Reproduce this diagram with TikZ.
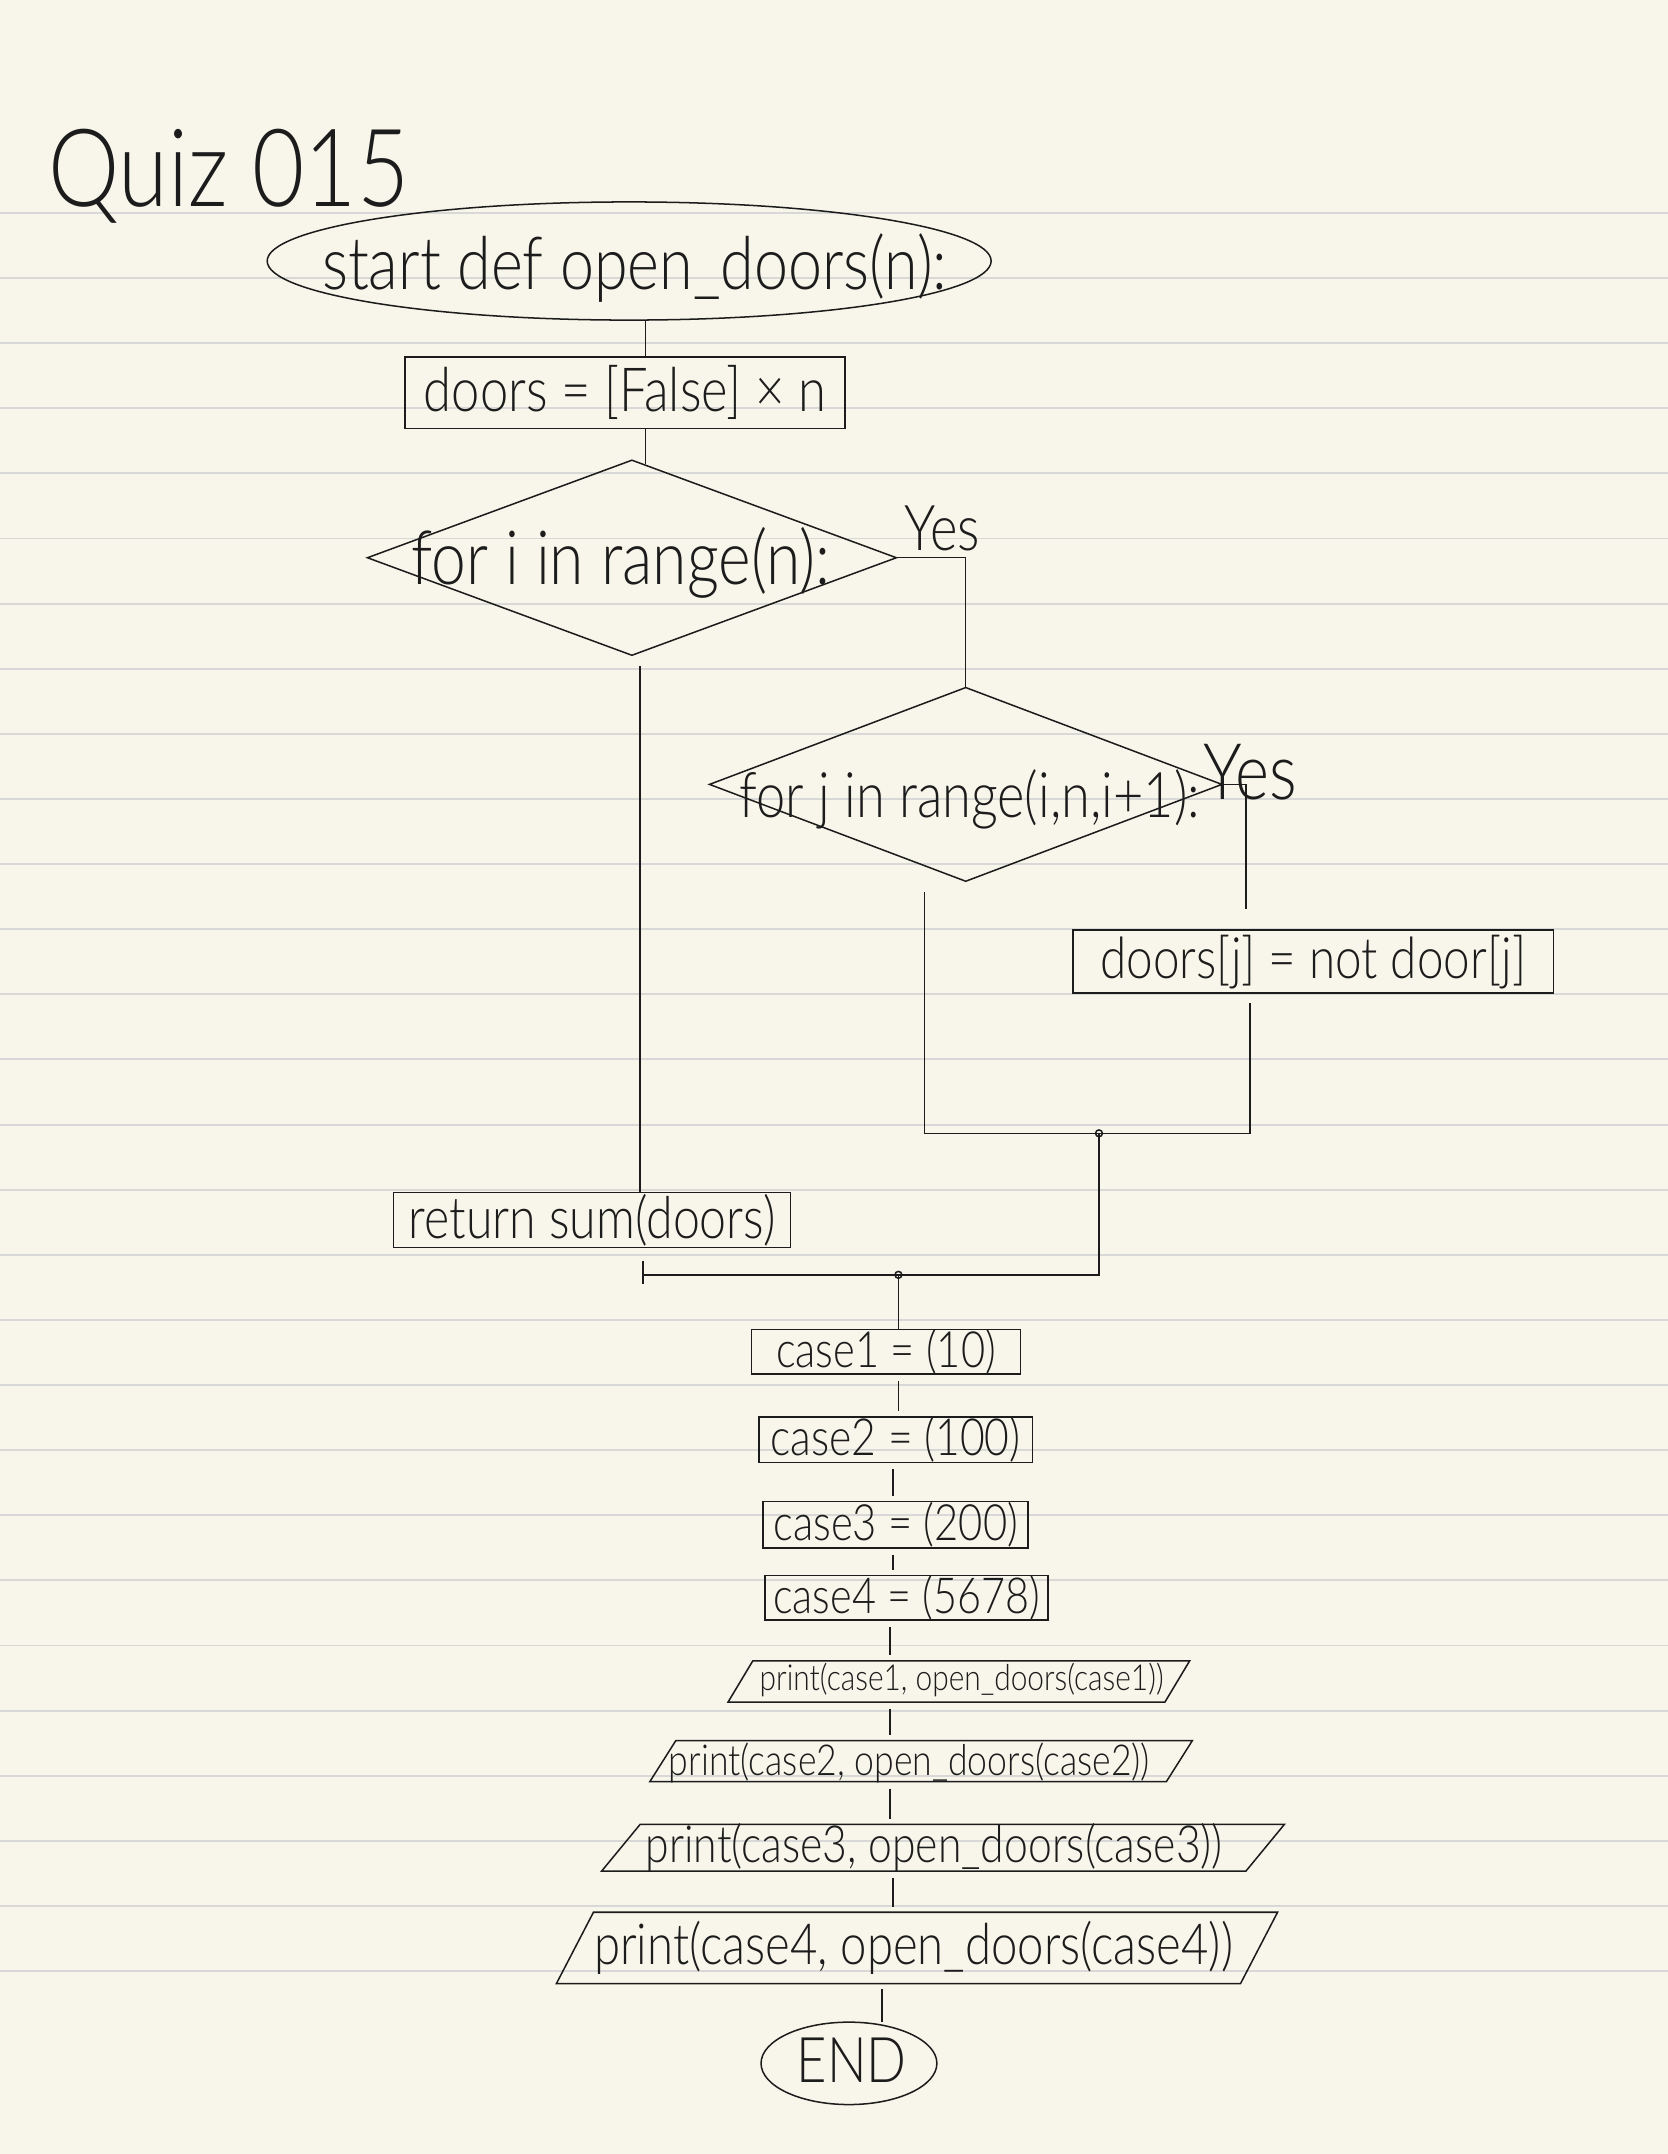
\documentclass[tikz,border=0pt]{standalone}
\usepackage{fontspec}
\newfontfamily\hand{Lato Light}
\usetikzlibrary{shapes.geometric,calc}
\definecolor{paper}{HTML}{F8F6EA}
\definecolor{rulecol}{HTML}{D8D8D6}
\definecolor{ink}{HTML}{1C1C1C}
\newcommand{\fitw}[2]{\resizebox{#1}{!}{\scalebox{1}[1.2]{\hand #2}}}
\begin{document}
\begin{tikzpicture}[x=1pt,y=-1pt,
  every node/.style={inner sep=0pt, outer sep=0pt, text=ink},
  ink/.style={draw=ink, line width=1.1pt},
  line/.style={draw=ink, line width=1.1pt},
  gap/.style={shorten <=5pt, shorten >=4pt},
  boxn/.style={ink, rectangle},
  slantbox/.style={rectangle, append after command={\pgfextra{\draw[draw=ink, line width=1.1pt]
      ([xshift=#1pt]\tikzlastnode.north west) -- (\tikzlastnode.north east) --
      ([xshift=-#1pt]\tikzlastnode.south east) -- (\tikzlastnode.south west) -- cycle;}}},
]
\fill[paper] (0,0) rectangle (1214,1568);
\useasboundingbox (0,0) rectangle (1214,1568);
\foreach \k in {0,...,27} \draw[rulecol, line width=1.4pt] (0,{155+47.4*\k}) -- (1214,{155+47.4*\k});

% title
\node[anchor=base west] (title) at (35,150) {\fitw{263pt}{Quiz 015}};

% start
\node[ink, ellipse, minimum width=527, minimum height=86] (start) at (458,190) {};
\node (tstart) at (462,195) {\fitw{455pt}{start def open\_doors(n):}};

\node[boxn, minimum width=320, minimum height=52] (doors) at (455,286) {\fitw{293pt}{doors = [False] × n}};

\node[ink, diamond, minimum width=385, minimum height=142] (d1) at (460,406) {};
\node (td1) at (452,410) {\fitw{305pt}{for i in range(n):}};
\node (yes1) at (686,385) {\fitw{55pt}{Yes}};

\node[ink, diamond, minimum width=373, minimum height=141] (d2) at (703,571) {};
\node (td2) at (706,582) {\fitw{335pt}{for j in range(i,n,i+1):}};
\node (yes2) at (910,562) {\fitw{68pt}{Yes}};

\node[boxn, minimum width=350, minimum height=46] (dj) at (956,700) {\fitw{310pt}{doors[j] = not door[j]}};

\node[boxn, minimum width=289, minimum height=40] (ret) at (431,888) {\fitw{267pt}{return sum(doors)}};

\node[boxn, minimum width=196, minimum height=29] (c1) at (645,984) {\fitw{160pt}{case1 = (10)}};
\node[boxn, minimum width=199, minimum height=29] (c2) at (652,1048) {\fitw{182pt}{case2 = (100)}};
\node[boxn, minimum width=193, minimum height=34] (c3) at (652,1110) {\fitw{178pt}{case3 = (200)}};
\node[boxn, minimum width=206, minimum height=29] (c4) at (660,1163) {\fitw{194pt}{case4 = (5678)}};

\node[slantbox=18, minimum width=336, minimum height=30] (p1) at (698,1224) {};
\node (tp1) at (700,1223) {\fitw{294pt}{print(case1, open\_doors(case1))}};
\node[slantbox=19, minimum width=395, minimum height=30] (p2) at (670.5,1282) {};
\node (tp2) at (662,1283) {\fitw{350pt}{print(case2, open\_doors(case2))}};
\node[slantbox=28, minimum width=497, minimum height=34] (p3) at (686.5,1345) {};
\node (tp3) at (680,1345) {\fitw{420pt}{print(case3, open\_doors(case3))}};
\node[slantbox=27, minimum width=525, minimum height=52] (p4) at (667.5,1418) {};
\node (tp4) at (665,1418) {\fitw{465pt}{print(case4, open\_doors(case4))}};

\node[ink, ellipse, minimum width=128, minimum height=60] (endn) at (618,1502) {};
\node (tend) at (620,1500) {\fitw{80pt}{END}};

% helper coordinates
\coordinate (y2end) at (907,662);
\coordinate (ml) at (673,825);
\coordinate (mr) at (910,825);
\coordinate (m1) at (800,825);
\coordinate (m4) at (800,928);
\coordinate (m3) at (468,928);
\coordinate (m2) at (654,928);
\coordinate (colR) at (466,0);
\coordinate (colT) at (470,0);
\coordinate (k1) at (654,0);
\coordinate (k2) at (650,0);
\coordinate (k3) at (648,0);
\coordinate (k4) at (642,0);

% connectors
\draw[line] (start.south -| colT) -- (doors.north -| colT);
\draw[line] (doors.south -| colT) -- ([yshift=-3pt]d1.north -| colT);
\draw[line] (d1.east) -| (d2.north);
\draw[line] (d2.east) -| (y2end);
\draw[line] ([yshift=-8pt]d2.south -| ml) -- (ml) -- (mr) -- ([yshift=-7pt]dj.south -| mr);
\draw[line] (m1) circle (2.5);
\draw[line] (m1) -- (m4) -- (m3);
\draw[line] ([yshift=-10pt]ret.south -| m3) -- ([yshift=-7pt]m3);
\draw[line] ([yshift=-8pt]d1.south -| colR) -- (ret.north -| colR);
\draw[line] (m2) circle (2.5);
\draw[line] (m2) -- (c1.north -| m2);
\draw[line, gap] (c1.south -| k1) -- (c2.north -| k1);
\draw[line, gap] (c2.south -| k2) -- (c3.north -| k2);
\draw[line, gap] (c3.south -| k2) -- (c4.north -| k2);
\draw[line, gap] (c4.south -| k3) -- (p1.north -| k3);
\draw[line, gap] (p1.south -| k3) -- (p2.north -| k3);
\draw[line, gap] (p2.south -| k3) -- (p3.north -| k3);
\draw[line, gap] (p3.south -| k2) -- (p4.north -| k2);
\draw[line, shorten <=4pt] (p4.south -| k4) -- (endn.north -| k4);
\end{tikzpicture}
\end{document}
